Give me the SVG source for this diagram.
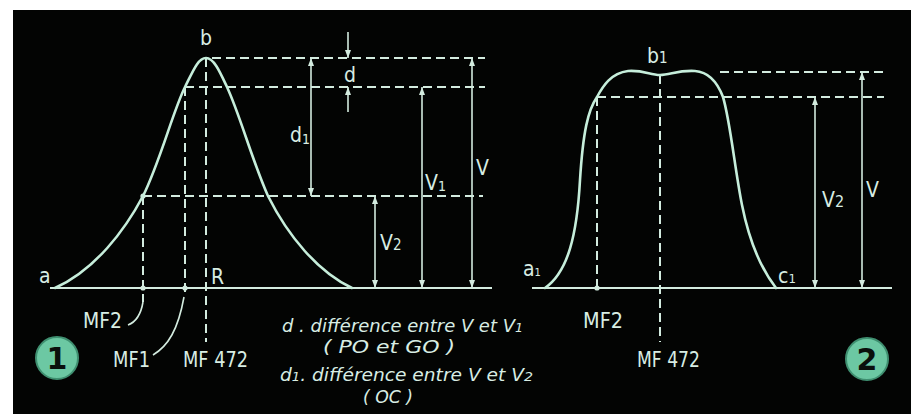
<svg xmlns="http://www.w3.org/2000/svg" width="911" height="414" viewBox="0 0 911 414">
<defs>
<marker id="ah" markerUnits="userSpaceOnUse" markerWidth="8" markerHeight="6" refX="8" refY="3" orient="auto-start-reverse" viewBox="0 0 8 6">
<path d="M0,0 L8,3 L0,6 z" fill="#d3ebdf"/>
</marker>
<style>
.bg{fill:#030403}
.curve{fill:none;stroke:#c6eedb;stroke-width:2.6;stroke-linecap:round;stroke-linejoin:round}
.base{stroke:#d3ebdf;stroke-width:2.2}
.dash{stroke:#d3ebdf;stroke-width:2;stroke-dasharray:9 5;fill:none}
.arr{stroke:#d3ebdf;stroke-width:1.6;marker-start:url(#ah);marker-end:url(#ah)}
.arr1{stroke:#d3ebdf;stroke-width:1.6;marker-end:url(#ah)}
.lead{fill:none;stroke:#d3ebdf;stroke-width:1.6}
.dot{fill:#d3ebdf}
.lbl{fill:#d8ede3;font-family:"DejaVu Sans Condensed","DejaVu Sans",sans-serif;font-stretch:condensed;font-size:21px}
.it{fill:#d8ede3;font-family:"DejaVu Sans Condensed","DejaVu Sans",sans-serif;font-style:italic;font-size:17px}
.num{fill:#6cc8a3;stroke:#3f8f70;stroke-width:2}
.numt{fill:#0a0f0c;font-family:"DejaVu Sans","Liberation Sans",sans-serif;font-weight:bold;font-size:30px;text-anchor:middle}
</style>
</defs>
<rect x="0" y="0" width="911" height="414" fill="#ffffff"/>
<rect class="bg" x="13" y="10" width="898" height="404"/>

<g id="connectors">
<line class="base" x1="50" y1="288" x2="492" y2="288"/>
<line class="base" x1="532" y1="288" x2="892" y2="288"/>
<line class="dash" x1="212" y1="58" x2="485" y2="58"/>
<line class="dash" x1="185" y1="87" x2="485" y2="87"/>
<line class="dash" x1="143" y1="196" x2="483" y2="196"/>
<line class="dash" x1="143" y1="196" x2="143" y2="302"/>
<line class="dash" x1="185" y1="87" x2="185" y2="296"/>
<line class="dash" x1="206" y1="58" x2="206" y2="342"/>
<line class="dash" x1="720" y1="72" x2="884" y2="72"/>
<line class="dash" x1="597" y1="97" x2="884" y2="97"/>
<line class="dash" x1="597" y1="97" x2="597" y2="288"/>
<line class="dash" x1="660" y1="75" x2="660" y2="342"/>
<line class="arr" x1="311" y1="58" x2="311" y2="196"/>
<line class="arr1" x1="348" y1="32" x2="348" y2="58"/>
<line class="arr1" x1="348" y1="112" x2="348" y2="87"/>
<line class="arr" x1="375" y1="196" x2="375" y2="288"/>
<line class="arr" x1="422" y1="87" x2="422" y2="288"/>
<line class="arr" x1="472" y1="58" x2="472" y2="288"/>
<line class="arr" x1="815" y1="97" x2="815" y2="288"/>
<line class="arr" x1="862" y1="72" x2="862" y2="288"/>
<path class="lead" d="M128,325 C136,322 141,314 143,302"/>
<path class="lead" d="M153,355 C168,346 178,330 184,297"/>
<circle class="dot" cx="143" cy="196" r="2.6"/>
<circle class="dot" cx="143" cy="288" r="2.6"/>
<circle class="dot" cx="185" cy="288" r="2.6"/>
<circle class="dot" cx="597" cy="288" r="2.6"/>
</g>

<g id="curve1">
<path class="curve" d="M55,288 C95,270 125,230 143,196 C160,162 173,111 185,87 C193,71 198,58 206,58 C214,58 220,72 227,87 C240,115 252,160 268,196 C288,236 318,272 352,288"/>
</g>

<g id="curve2">
<path class="curve" d="M545,288 C568,272 577,235 580,180 C583,132 588,110 597,97 C603,86 611,73 628,71 C644,70 650,75 660,75 C670,75 678,70 695,71 C710,72 718,84 723,97 C730,120 735,170 742,205 C750,245 762,270 776,288"/>
</g>

<g id="labels1">
<text class="lbl" x="206" y="45" text-anchor="middle">b</text>
<text class="lbl" x="39" y="283" font-size="19">a</text>
<text class="lbl" x="211" y="284" font-size="19">R</text>
<text class="lbl" x="83" y="328" textLength="39" lengthAdjust="spacingAndGlyphs">MF2</text>
<text class="lbl" x="113" y="367" textLength="37" lengthAdjust="spacingAndGlyphs">MF1</text>
<text class="lbl" x="183" y="367" textLength="65" lengthAdjust="spacingAndGlyphs">MF 472</text>
<text class="lbl" x="344" y="82" font-size="19">d</text>
<text class="lbl" x="290" y="142">d<tspan font-size="14" dy="2">1</tspan></text>
<text class="lbl" x="425" y="190">V<tspan font-size="14" dy="1">1</tspan></text>
<text class="lbl" x="380" y="250">V<tspan font-size="15">2</tspan></text>
<text class="lbl" x="476" y="175">V</text>
</g>

<g id="labels2">
<text class="lbl" x="647" y="63">b<tspan font-size="15">1</tspan></text>
<text class="lbl" x="523" y="276" font-size="14">a<tspan font-size="11">1</tspan></text>
<text class="lbl" x="778" y="283" font-size="16">c<tspan font-size="13">1</tspan></text>
<text class="lbl" x="583" y="328" textLength="40" lengthAdjust="spacingAndGlyphs">MF2</text>
<text class="lbl" x="637" y="367" textLength="63" lengthAdjust="spacingAndGlyphs">MF 472</text>
<text class="lbl" x="822" y="207">V<tspan font-size="16">2</tspan></text>
<text class="lbl" x="866" y="197">V</text>
</g>

<g id="legend">
<text class="it" x="282" y="332" textLength="241" lengthAdjust="spacingAndGlyphs">d . différence entre V et V<tspan font-size="12">1</tspan></text>
<text class="it" x="323" y="353" textLength="132" lengthAdjust="spacingAndGlyphs">( PO  et  GO )</text>
<text class="it" x="280" y="381" textLength="253" lengthAdjust="spacingAndGlyphs">d<tspan font-size="12">1</tspan>. différence entre V et V<tspan font-size="13">2</tspan></text>
<text class="it" x="363" y="403" textLength="50" lengthAdjust="spacingAndGlyphs">( OC )</text>
</g>

<g id="badge1">
<circle class="num" cx="57" cy="358" r="21"/>
<text class="numt" x="57" y="369">1</text>
</g>
<g id="badge2">
<circle class="num" cx="867" cy="359" r="21"/>
<text class="numt" x="867" y="370">2</text>
</g>
</svg>
